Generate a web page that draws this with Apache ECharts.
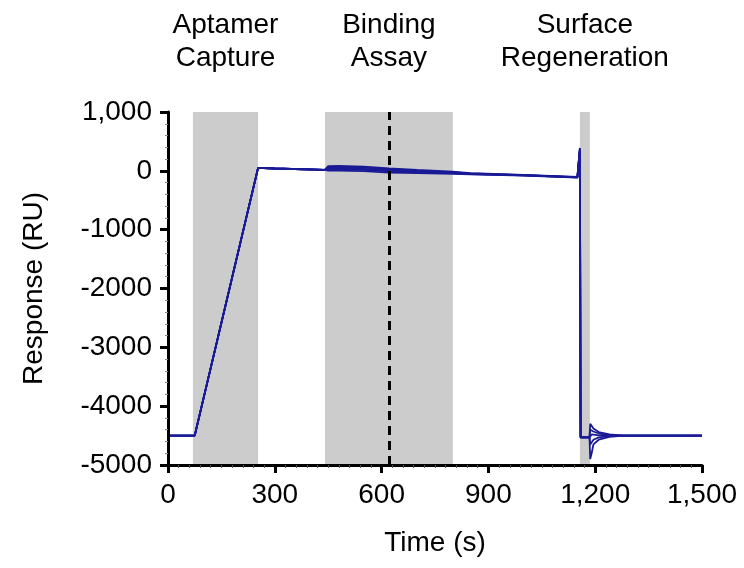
<!DOCTYPE html>
<html>
<head>
<meta charset="utf-8">
<script src="https://cdn.jsdelivr.net/npm/echarts@6/dist/echarts.min.js"></script>
<style>
  html, body { margin: 0; padding: 0; background: #fff; }
  #chart { width: 744px; height: 568px; }
</style>
</head>
<body>
<div id="chart"></div>
<script>
// sensorgram: time (s) and response (RU) for 5 injections
const times = [0, 75, 253, 300, 440, 450, 480, 550, 621, 700, 800, 850, 1000, 1150, 1155, 1157, 1159, 1184, 1186, 1190, 1195, 1210, 1240, 1280, 1500];
const run1 = [-4500, -4500, 50, 40, 15, 80, 85, 70, 40, 15, -15, -40, -70, -105, -105, 390, -4530, -4530, -4300, -4280, -4380, -4440, -4480, -4500, -4500];
const run2 = [-4500, -4500, 50, 40, 15, 60, 65, 55, 25, 0, -25, -45, -72, -108, -108, 380, -4530, -4530, -4400, -4370, -4430, -4465, -4490, -4500, -4500];
const run3 = [-4500, -4500, 50, 40, 15, 40, 45, 35, 10, -15, -35, -50, -75, -110, -110, 370, -4530, -4530, -4500, -4480, -4490, -4495, -4500, -4500, -4500];
const run4 = [-4500, -4500, 50, 40, 15, 20, 25, 15, -10, -25, -40, -55, -77, -112, -112, 360, -4530, -4530, -4650, -4620, -4570, -4530, -4510, -4500, -4500];
const run5 = [-4500, -4500, 50, 40, 15, 5, 5, -5, -30, -40, -50, -60, -80, -115, -115, 350, -4530, -4530, -4900, -4800, -4650, -4570, -4520, -4500, -4500];
const runs = [run1, run2, run3, run4, run5];

// shaded phases and the dashed marker
const phases = [
    { name: 'Aptamer\nCapture', from: 70, to: 253 },
    { name: 'Binding\nAssay', from: 441, to: 800 },
    { name: 'Surface\nRegeneration', from: 1157, to: 1185 }
];
const markerTime = 621;

const xTickLabels = { 0: '0', 300: '300', 600: '600', 900: '900', 1200: '1,200', 1500: '1,500' };
const yTickLabels = { 1000: '1,000', 0: '0', '-1000': '-1000', '-2000': '-2000', '-3000': '-3000', '-4000': '-4000', '-5000': '-5000' };

const font = 'Liberation Sans, Arial, Helvetica, sans-serif';
const lineColor = '#1a1a96';

const chart = echarts.init(document.getElementById('chart'));

const series = runs.map(function (vals, i) {
    const s = {
        type: 'line',
        data: times.map(function (t, k) { return [t, vals[k]]; }),
        showSymbol: false,
        symbol: 'none',
        lineStyle: { color: lineColor, width: 1.8 },
        animation: false
    };
    if (i === 0) {
        s.markArea = {
            silent: true,
            itemStyle: { color: '#cccccc' },
            label: {
                show: true,
                position: 'top',
                distance: 37,
                fontFamily: font,
                fontSize: 28,
                lineHeight: 33,
                color: '#000',
                align: 'center'
            },
            data: phases.map(function (p) {
                return [{ name: p.name, xAxis: p.from }, { xAxis: p.to }];
            })
        };
    }
    if (i === runs.length - 1) {
        s.markLine = {
            silent: true,
            symbol: ['none', 'none'],
            label: { show: false },
            lineStyle: { color: '#000', width: 3, type: [9, 6] },
            data: [{ xAxis: markerTime }]
        };
    }
    return s;
});

const option = {
    backgroundColor: '#fff',
    animation: false,
    grid: { left: 168, right: 42, top: 112, bottom: 103 },
    xAxis: {
        type: 'value',
        z: 10,
        min: 0,
        max: 1500,
        interval: 300,
        name: 'Time (s)',
        nameLocation: 'middle',
        nameGap: 64,
        nameTextStyle: { fontFamily: font, fontSize: 28, color: '#000' },
        axisLine: { show: true, onZero: false, lineStyle: { color: '#000', width: 3 } },
        axisTick: { show: true, length: 8, lineStyle: { width: 3, color: '#000' } },
        minorTick: { show: true, splitNumber: 10, length: 3, lineStyle: { color: '#555', width: 1 } },
        splitLine: { show: false },
        axisLabel: {
            margin: 16,
            fontFamily: font,
            fontSize: 28,
            color: '#000',
            formatter: function (v) { return xTickLabels[v]; }
        }
    },
    yAxis: {
        type: 'value',
        z: 10,
        min: -5000,
        max: 1000,
        interval: 1000,
        name: 'Response (RU)',
        nameLocation: 'middle',
        nameGap: 120,
        nameTextStyle: { fontFamily: font, fontSize: 28, color: '#000' },
        axisLine: { show: true, onZero: false, lineStyle: { color: '#000', width: 3 } },
        axisTick: { show: true, length: 8, lineStyle: { width: 3, color: '#000' } },
        minorTick: { show: true, splitNumber: 5, length: 3, lineStyle: { color: '#888', width: 1 } },
        splitLine: { show: false },
        axisLabel: {
            margin: 16,
            fontFamily: font,
            fontSize: 28,
            color: '#000',
            formatter: function (v) { return yTickLabels[v]; }
        }
    },
    series: series
};

chart.setOption(option);
</script>
</body>
</html>
